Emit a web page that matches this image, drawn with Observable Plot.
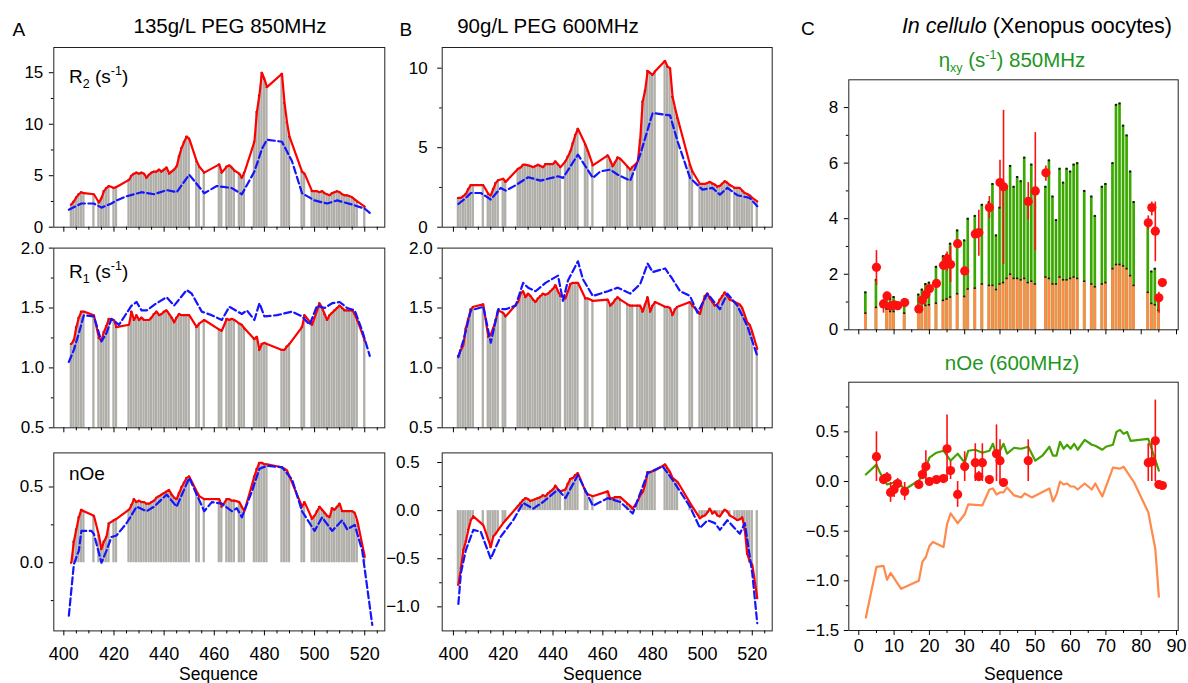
<!DOCTYPE html>
<html><head><meta charset="utf-8">
<script src="https://cdn.jsdelivr.net/npm/d3@7"></script>
<script src="https://cdn.jsdelivr.net/npm/@observablehq/plot@0.6"></script>
<style>
body{margin:0;background:#fff;}
#root{position:relative;width:1188px;height:683px;overflow:hidden;background:#fff;}
</style></head><body><div id="root"></div>
<script>
// ---------------- DATA ----------------
// Panel A (135 g/L PEG, 850 MHz): residues with measured bars
const resA = [403,404,405,406,407,408, 412, 414,415,416,417,418, 420,421,
  426,427,428,429,430,431,432,433,434,435,436,437,438,439,440,441,442,443,444,445,446,447,448,449,450,
  453,454, 456, 462,463, 465,466,467,468, 470,471,472, 476,477,478,479,480,481, 487,488,489,490, 495,496,
  499,500,501,502,503,504,505,506,507,508,509,510,511,512,513,514,515,516,517, 520];
const aR2 = [2.2,2.5,2.9,3.2,3.4,3.3, 3.2, 2.4,2.8,3.5,3.8,4.0, 3.8,3.9,
  4.6,5.0,5.2,5.3,5.2,5.3,5.2,4.8,5.1,5.3,5.4,5.4,5.6,5.4,5.6,5.8,5.2,5.4,5.6,5.9,6.9,7.7,8.3,8.8,8.6,
  6.4,5.9, 5.3, 6.1,5.3, 5.9,6.0,5.8,5.5, 5.2,4.8,5.3, 8.3,11.2,12.8,15.0,14.4,13.6, 14.9,12.1,10.2,8.8, 5.4,5.2,
  3.5,3.5,3.5,3.4,3.5,3.3,3.2,3.1,3.3,3.4,3.5,3.4,3.2,3.1,3.1,3.0,2.9,2.7,2.5, 2.0];
const aR1 = [1.20,1.23,1.34,1.42,1.47,1.47, 1.44, 1.25,1.23,1.30,1.35,1.41, 1.40,1.34,
  1.36,1.47,1.40,1.44,1.40,1.42,1.40,1.40,1.40,1.42,1.45,1.47,1.44,1.45,1.47,1.48,1.45,1.42,1.38,1.42,1.45,1.44,1.44,1.44,1.44,
  1.34,1.37, 1.40, 1.32,1.31, 1.41,1.40,1.41,1.40, 1.37,1.36,1.33, 1.24,1.26,1.15,1.20,1.21,1.20, 1.15,1.15,1.18,1.20, 1.34,1.44,
  1.36,1.42,1.48,1.54,1.50,1.45,1.40,1.44,1.46,1.48,1.50,1.52,1.50,1.48,1.48,1.48,1.48,1.45,1.40, 1.23];
const aNoe = [0.0,0.14,0.22,0.30,0.35,0.34, 0.31, 0.18,0.09,0.14,0.17,0.26, 0.28,0.29,
  0.35,0.38,0.42,0.40,0.41,0.40,0.40,0.39,0.39,0.40,0.41,0.43,0.44,0.45,0.46,0.47,0.48,0.45,0.43,0.42,0.46,0.50,0.53,0.56,0.57,
  0.47,0.44, 0.42, 0.42,0.37, 0.42,0.42,0.41,0.41, 0.40,0.37,0.34, 0.57,0.62,0.66,0.66,0.65,0.65, 0.63,0.62,0.61,0.57, 0.37,0.40,
  0.29,0.31,0.34,0.37,0.35,0.33,0.31,0.30,0.36,0.35,0.37,0.39,0.34,0.34,0.34,0.34,0.34,0.33,0.28, 0.04];
// Panel A predictions (blue dashed)
const pA_R2_res = [402,407,412,415,419,421,425,431,436,441,445,450,456,461,467,471,476,479,481,487,491,495,500,505,509,515,520,522];
const pA_R2     = [1.7,2.3,2.3,1.9,2.3,2.6,3.0,3.4,3.2,3.6,3.4,5.1,3.3,4.0,3.8,3.2,5.4,7.6,8.5,8.3,6.4,3.3,2.6,2.3,2.6,2.2,1.8,1.4];
const pA_R1_res = [402,404,406,408,412,415,417,419,422,427,429,431,433,437,441,444,449,451,455,459,463,466,471,473,476,478,480,485,491,495,498,501,504,507,510,513,516,519,522];
const pA_R1     = [1.05,1.15,1.29,1.44,1.43,1.22,1.29,1.41,1.36,1.52,1.55,1.48,1.48,1.54,1.59,1.52,1.65,1.62,1.47,1.44,1.40,1.51,1.45,1.48,1.40,1.54,1.43,1.44,1.47,1.43,1.36,1.52,1.50,1.54,1.55,1.50,1.48,1.31,1.10];
const pA_Noe_res = [402,404,406,407,411,412,415,417,419,421,425,429,433,436,441,445,450,456,459,463,467,469,471,475,478,481,487,491,495,500,503,507,511,513,516,519,523];
const pA_Noe     = [-0.35,-0.01,0.08,0.21,0.21,0.19,0.0,0.08,0.17,0.18,0.26,0.37,0.34,0.37,0.45,0.37,0.56,0.34,0.40,0.39,0.34,0.36,0.30,0.47,0.62,0.64,0.63,0.55,0.34,0.21,0.30,0.21,0.28,0.22,0.25,0.08,-0.41];

// Panel B (90 g/L PEG, 600 MHz)
const resB = [402,403,404,405,406,407,408, 412, 414,415,416,417,418, 420,421,
  426,427,428,429,430,431,432,433,434,435,436,437,438,439,440,441,442,443, 445,446,447,448,449,450,
  453,454, 456, 462,463, 464,465,466,467, 470,471,472, 474,475,476,477,478,479,480,481, 485,486,487,488,489,490, 495,496,
  499,500,501,502,503,504,505,506,507,508,509,510,511, 513,514,515,516,517,518,519,520, 522];
const bR2 = [1.84,1.84,1.95,2.09,2.4,2.64,2.64, 2.64, 2.1,2.0,2.4,2.78,2.95, 3.05,2.85,
  3.68,3.75,3.93,3.93,3.89,3.85,3.77,3.85,3.93,3.85,3.77,3.97,3.97,3.97,3.97,4.14,3.95,3.77, 4.14,4.45,4.77,5.3,5.8,6.19,
  5.2,4.8, 3.89, 4.52,4.2, 3.83,4.1,4.39,4.3, 3.8,3.62,3.8, 4.1,5.5,7.9,8.6,9.83,9.7,9.58,9.8, 10.46,10.1,10.0,8.2,7.5,6.86, 3.93,3.5,
  2.72,2.72,2.72,2.78,2.85,2.75,2.68,2.55,2.6,2.75,2.89,2.8,2.65, 2.47,2.47,2.47,2.3,2.15,2.09,2.0,1.85, 1.63];
const bR1 = [1.10,1.15,1.19,1.33,1.41,1.49,1.51, 1.53, 1.26,1.28,1.33,1.40,1.48, 1.46,1.43,
  1.55,1.62,1.64,1.59,1.62,1.60,1.57,1.55,1.58,1.60,1.62,1.61,1.62,1.64,1.66,1.69,1.64,1.60, 1.58,1.64,1.70,1.71,1.71,1.71,
  1.58,1.58, 1.56, 1.57,1.52, 1.54,1.57,1.59,1.57, 1.53,1.52,1.52, 1.52,1.52,1.47,1.53,1.59,1.47,1.52,1.55, 1.51,1.51,1.50,1.44,1.49,1.51, 1.55,1.52,
  1.45,1.53,1.60,1.62,1.58,1.55,1.52,1.53,1.57,1.60,1.63,1.60,1.57, 1.55,1.54,1.53,1.50,1.44,1.38,1.36,1.30, 1.16];
const bNoe = [-0.77,-0.6,-0.41,-0.32,-0.2,-0.1,-0.06, -0.15, -0.30,-0.38,-0.27,-0.24,-0.20, -0.13,-0.10,
  0.05,0.08,0.11,0.13,0.12,0.10,0.11,0.12,0.13,0.14,0.16,0.15,0.18,0.20,0.22,0.26,0.22,0.20, 0.22,0.28,0.33,0.34,0.37,0.39,
  0.20,0.17, 0.15, 0.20,0.12, 0.13,0.14,0.14,0.14, 0.07,0.05,0.02, 0.10,0.16,0.19,0.27,0.40,0.40,0.41,0.42, 0.48,0.44,0.40,0.34,0.32,0.30, 0.08,0.04,
  -0.08,-0.06,-0.05,-0.02,0.02,-0.03,-0.01,-0.05,-0.06,-0.02,0.01,-0.01,-0.05, -0.08,-0.10,-0.09,-0.07,-0.2,-0.45,-0.53,-0.56, -0.91];
const pB_R2_res = [402,405,407,411,415,419,421,425,430,435,442,444,450,456,459,463,466,471,475,480,487,490,495,500,504,507,510,514,519,522];
const pB_R2     = [1.46,1.84,2.15,2.15,1.74,2.47,2.3,2.64,3.14,2.93,3.2,3.1,4.56,3.1,3.51,3.62,3.3,2.93,4.56,7.18,7.03,5.4,3.1,2.36,2.47,2.05,2.47,2.01,1.84,1.32];
const pB_R1_res = [402,404,407,412,415,418,421,425,428,430,433,437,442,444,446,450,452,456,462,466,471,475,478,480,485,488,491,495,498,502,507,510,514,518,522];
const pB_R1     = [1.09,1.23,1.48,1.51,1.21,1.49,1.49,1.52,1.71,1.67,1.64,1.71,1.77,1.56,1.73,1.89,1.74,1.60,1.64,1.67,1.62,1.70,1.87,1.80,1.83,1.74,1.64,1.60,1.46,1.62,1.49,1.62,1.52,1.35,1.10];
const pB_Noe_res = [402,403,405,408,411,415,417,419,424,428,432,436,442,445,450,456,462,467,472,478,484,488,495,499,502,505,507,510,515,517,520,522];
const pB_Noe     = [-0.97,-0.65,-0.41,-0.20,-0.22,-0.50,-0.38,-0.27,-0.10,0.08,0.02,0.09,0.22,0.13,0.37,0.05,0.13,0.09,-0.03,0.39,0.46,0.32,0.04,-0.18,-0.10,-0.13,-0.20,-0.10,-0.24,-0.13,-0.65,-1.17];

// Panel C (in cellulo): eta_xy bars (green total, orange part)
const cRes    = [2,5,8,9,10,13,17,18,19,20,22,24,25,26,28,30,31,33,35,37,38,39,40,41,42,43,44,45,46,47,48,49,50,53,54,55,56,57,58,59,60,61,62,64,66,67,69,70,72,73,74,75,76,77,78,82,83,84,85];
const cGreen  = [1.35,1.8,1.25,1.12,1.18,1.11,1.27,1.45,1.65,1.7,2.27,2.65,2.71,3.1,3.58,3.22,4.0,4.1,4.5,4.6,5.25,3.4,4.4,5.25,5.1,5.9,5.15,5.5,5.35,6.2,4.7,5.95,5.0,5.15,6.1,4.8,3.95,5.8,5.3,5.8,5.7,5.95,6.0,5.0,4.8,4.1,5.15,5.25,6.0,8.1,8.15,7.35,7.0,5.7,4.6,3.8,2.1,2.2,1.2];
const cOrange = [0.6,0.81,0.75,0.66,0.66,0.6,0.72,0.8,0.88,0.9,0.96,1.06,1.11,1.18,1.3,1.2,1.47,1.5,1.65,1.6,1.6,1.45,1.65,1.7,1.85,2.0,1.85,1.85,1.8,1.85,1.7,1.75,1.65,1.9,1.85,1.65,1.65,1.9,1.8,1.8,1.85,1.9,1.85,1.75,1.65,1.55,1.65,1.7,2.2,2.35,2.35,2.3,2.2,1.95,1.6,1.35,0.95,0.9,0.7];
// in-cell measured eta_xy (red points)
const cEtaRes = [5,7,8,9,10,11,13,17,18,19,20,22,24,25,26,28,30,33,34,37,40,41,48,50,53,82,83,84,85,86];
const cEta    = [2.25,0.93,1.22,0.85,0.9,0.87,0.98,0.75,1.07,1.27,1.48,1.67,2.32,2.55,2.35,3.1,2.12,3.45,3.5,4.4,5.3,5.15,4.62,5.0,5.65,3.85,4.4,3.55,1.15,1.7];
const cEtaLo  = [1.6,0.6,1.1,0.7,0.8,0.8,0.9,0.7,0.95,1.15,1.35,1.55,2.15,2.1,1.7,2.95,2.0,3.3,2.65,4.0,4.4,2.35,3.95,2.85,5.35,3.6,4.1,2.45,0.6,1.6];
const cEtaHi  = [2.85,1.1,1.35,1.0,1.0,0.95,1.05,0.8,1.2,1.4,1.6,1.8,2.5,2.8,3.0,3.25,2.25,3.6,4.3,4.8,6.1,7.9,5.3,7.1,5.9,4.1,4.6,4.6,1.35,1.8];
// nOe (600 MHz): green and orange lines, red in-cell points
const cNoeGreenRes = [2,5,6,8,10,11,13,17,18,19,20,22,24,25,26,28,30,31,33,35,37,38,39,40,41,42,44,46,48,50,52,54,55,56,57,58,59,60,61,62,64,66,67,69,70,72,73,74,75,76,77,82,85];
const cNoeGreen    = [0.07,0.17,0.09,-0.03,-0.01,0.0,-0.08,0.01,0.06,0.14,0.24,0.29,0.31,0.26,0.21,0.28,0.19,0.31,0.32,0.29,0.31,0.38,0.26,0.31,0.38,0.28,0.34,0.33,0.35,0.21,0.26,0.35,0.26,0.26,0.40,0.33,0.37,0.33,0.38,0.32,0.42,0.37,0.36,0.32,0.35,0.37,0.50,0.52,0.48,0.50,0.41,0.43,0.11];
const cNoeOrangeRes = [2,5,7,8,9,12,17,18,19,20,21,24,25,26,28,30,31,35,37,38,39,40,41,42,44,46,47,49,54,55,56,57,58,59,60,61,62,64,66,67,69,72,74,75,78,82,84,85];
const cNoeOrange    = [-1.37,-0.86,-0.85,-0.99,-0.92,-1.08,-1.0,-0.81,-0.76,-0.65,-0.61,-0.66,-0.43,-0.32,-0.42,-0.33,-0.23,-0.24,-0.08,-0.07,-0.13,-0.11,-0.11,-0.06,-0.14,-0.16,-0.12,-0.16,-0.07,-0.20,-0.13,0.0,-0.03,-0.02,-0.05,-0.05,-0.08,-0.02,-0.08,-0.02,-0.15,0.14,0.13,0.15,-0.01,-0.31,-0.68,-1.16];
const cNoeRes = [5,7,8,9,10,11,13,17,18,19,20,22,24,25,26,28,30,33,34,35,37,39,40,41,48,82,83,84,85,86];
const cNoe    = [0.25,0.02,0.04,-0.11,-0.08,-0.02,-0.10,-0.03,0.07,0.15,0.0,0.02,0.03,0.33,0.11,-0.13,0.15,0.19,0.05,0.19,0.02,0.28,0.21,-0.01,0.21,0.19,0.20,0.41,-0.03,-0.04];
const cNoeLo  = [0.0,-0.03,-0.01,-0.21,-0.16,-0.07,-0.19,-0.07,0.02,0.0,-0.04,-0.01,0.0,0.0,0.02,-0.26,0.0,0.0,0.0,0.0,-0.01,0.0,0.0,-0.05,0.0,0.0,0.0,0.0,-0.06,-0.07];
const cNoeHi  = [0.5,0.07,0.09,-0.01,0.0,0.03,-0.01,0.01,0.12,0.31,0.04,0.05,0.06,0.67,0.2,0.0,0.3,0.38,0.1,0.38,0.05,0.57,0.42,0.03,0.42,0.38,0.4,0.82,0.0,-0.01];

// axis ticks
const seqMajor = [400,420,440,460,480,500,520];
const seqMinor = [405,410,415,425,430,435,445,450,455,465,470,475,485,490,495,505,510,515,525];
const cMajor = [0,10,20,30,40,50,60,70,80,90];
const cMinor = [5,15,25,35,45,55,65,75,85];

// ---------------- DRAWING ----------------
const root = document.getElementById("root");
const FONT = '"Liberation Sans", Arial, Helvetica, sans-serif';
const GRAY = "#b0aea8", RED = "#ff0000", BLUE = "#1414ff";
const GREEN = "#3aa800", ORANGE = "#ff8a4c", DOTRED = "#ff1010";
const f1 = d3.format(".1f");

function panel(o) {
  const [L, T, W, H] = o.box;
  const [fx0, fy0, fx1, fy1] = o.frame;
  const svg = Plot.plot({
    width: W, height: H,
    marginLeft: fx0 - L, marginRight: L + W - fx1, marginTop: fy0 - T, marginBottom: T + H - fy1,
    x: {domain: o.xDomain},
    y: {domain: o.yDomain},
    style: {fontFamily: FONT, fontSize: "17px", color: "#000", background: "transparent", overflow: "visible"},
    marks: [
      ...o.marks,
      Plot.frame({stroke: "#222", strokeWidth: 1}),
      Plot.axisY(o.yMinor, {tickSize: 2.5, tickFormat: () => "", label: null}),
      Plot.axisY(o.yTicks, {tickSize: 4.5, tickPadding: o.yPad, tickFormat: o.yFmt, label: null, fontSize: 17}),
      Plot.axisX(o.xMinor, {tickSize: 3, tickFormat: () => "", label: null}),
      Plot.axisX(o.xTicks, {tickSize: 5, tickPadding: o.xPad ?? 3, tickFormat: o.xLabels ? (d => String(d)) : (() => ""), label: null, fontSize: 18})
    ]
  });
  svg.style.position = "absolute";
  svg.style.left = L + "px";
  svg.style.top = T + "px";
  root.appendChild(svg);
}

function rows(res, vals) { return res.map((r, i) => ({r, v: vals[i]})); }

function seqMarks(res, vals, pres, pvals, base) {
  const d = rows(res, vals);
  const p = rows(pres, pvals);
  return [
    Plot.rect(d, {x1: e => e.r - 0.46, x2: e => e.r + 0.46, y1: base, y2: "v", fill: GRAY}),
    Plot.ruleY(d, {y: "v", x1: e => e.r - 0.3, x2: e => e.r + 0.3, stroke: "#111", strokeWidth: 1.6}),
    Plot.line(d, {x: "r", y: "v", stroke: RED, strokeWidth: 2.2}),
    Plot.line(p, {x: "r", y: "v", stroke: BLUE, strokeWidth: 2.2, strokeDasharray: "7,3.5"})
  ];
}

const colA = {L: 0, W: 400, fx0: 53.3, fx1: 384.3, dom: [396, 528]};
const colB = {L: 400, W: 385, fx0: 441.7, fx1: 771.7, dom: [395.5, 528]};
const rowR2 = {T: 40, H: 200, fy0: 47, fy1: 226.7};
const rowR1 = {T: 240, H: 200, fy0: 247.6, fy1: 427.3};
const rowN  = {T: 445, H: 238, fy0: 452.4, fy1: 630.4};

function seqPanel(col, row, o) {
  panel({
    box: [col.L, row.T, col.W, row.H],
    frame: [col.fx0, row.fy0, col.fx1, row.fy1],
    xDomain: col.dom, yDomain: o.yDomain,
    yTicks: o.yTicks, yMinor: o.yMinor, yFmt: o.yFmt, yPad: o.yPad,
    xTicks: seqMajor, xMinor: seqMinor, xLabels: o.xLabels, xPad: 11,
    marks: o.marks
  });
}

// Panel A
seqPanel(colA, rowR2, {yDomain: [0, 17.45], yTicks: [0,5,10,15], yMinor: [2.5,7.5,12.5], yFmt: d => String(d), yPad: 6,
  marks: seqMarks(resA, aR2, pA_R2_res, pA_R2, 0)});
seqPanel(colA, rowR1, {yDomain: [0.5, 2.0], yTicks: [0.5,1.0,1.5,2.0], yMinor: [0.75,1.25,1.75], yFmt: f1, yPad: 5,
  marks: seqMarks(resA, aR1, pA_R1_res, pA_R1, 0.5)});
seqPanel(colA, rowN, {yDomain: [-0.45, 0.725], yTicks: [0.0,0.5], yMinor: [-0.25,0.25], yFmt: f1, yPad: 6, xLabels: true,
  marks: seqMarks(resA, aNoe, pA_Noe_res, pA_Noe, 0)});
// Panel B
seqPanel(colB, rowR2, {yDomain: [0, 11.3], yTicks: [0,5,10], yMinor: [2.5,7.5], yFmt: d => String(d), yPad: 10,
  marks: seqMarks(resB, bR2, pB_R2_res, pB_R2, 0)});
seqPanel(colB, rowR1, {yDomain: [0.5, 2.0], yTicks: [0.5,1.0,1.5,2.0], yMinor: [0.75,1.25,1.75], yFmt: f1, yPad: 5,
  marks: seqMarks(resB, bR1, pB_R1_res, pB_R1, 0.5)});
seqPanel(colB, rowN, {yDomain: [-1.25, 0.6], yTicks: [-1.0,-0.5,0.0,0.5], yMinor: [-0.75,-0.25,0.25], yFmt: f1, yPad: 18, xLabels: true,
  marks: seqMarks(resB, bNoe, pB_Noe_res, pB_Noe, 0)});

// Panel C top: eta_xy
const cBars = cRes.map((r, i) => ({r, g: cGreen[i], o: cOrange[i]}));
const cEtaPts = cEtaRes.map((r, i) => ({r, v: cEta[i], lo: cEtaLo[i], hi: cEtaHi[i]}));
panel({
  box: [795, 70, 393, 270], frame: [848.3, 79.3, 1177.7, 329.3],
  xDomain: [-2.83, 90.48], yDomain: [0, 9],
  yTicks: [0,2,4,6,8], yMinor: [1,3,5,7], yFmt: d => String(d), yPad: 6,
  xTicks: cMajor, xMinor: cMinor, xLabels: false,
  marks: [
    Plot.rect(cBars, {x1: e => e.r - 0.38, x2: e => e.r + 0.38, y1: 0, y2: "g", fill: GREEN}),
    Plot.rect(cBars, {x1: e => e.r - 0.38, x2: e => e.r + 0.38, y1: 0, y2: "o", fill: ORANGE}),
    Plot.ruleY(cBars, {y: "g", x1: e => e.r - 0.3, x2: e => e.r + 0.3, stroke: "#111", strokeWidth: 2}),
    Plot.ruleY(cBars, {y: "o", x1: e => e.r - 0.3, x2: e => e.r + 0.3, stroke: "#111", strokeWidth: 1.6}),
    Plot.ruleX(cEtaPts, {x: "r", y1: "lo", y2: "hi", stroke: DOTRED, strokeWidth: 1.6}),
    Plot.dot(cEtaPts, {x: "r", y: "v", r: 4.6, fill: DOTRED, stroke: "none"})
  ]
});

// Panel C bottom: nOe
const cG = rows(cNoeGreenRes, cNoeGreen);
const cO = rows(cNoeOrangeRes, cNoeOrange);
const cNoePts = cNoeRes.map((r, i) => ({r, v: cNoe[i], lo: cNoeLo[i], hi: cNoeHi[i]}));
panel({
  box: [795, 370, 393, 313], frame: [848.3, 381.7, 1177.7, 630],
  xDomain: [-2.83, 90.48], yDomain: [-1.5, 1.0],
  yTicks: [-1.5,-1.0,-0.5,0.0,0.5], yMinor: [-1.25,-0.75,-0.25,0.25,0.75], yFmt: f1, yPad: 5,
  xTicks: cMajor, xMinor: cMinor, xLabels: true, xPad: 4,
  marks: [
    Plot.line(cO, {x: "r", y: "v", stroke: ORANGE, strokeWidth: 2.2}),
    Plot.line(cG, {x: "r", y: "v", stroke: "#44a300", strokeWidth: 2.2}),
    Plot.ruleX(cNoePts, {x: "r", y1: "lo", y2: "hi", stroke: DOTRED, strokeWidth: 1.6}),
    Plot.dot(cNoePts, {x: "r", y: "v", r: 4.6, fill: DOTRED, stroke: "none"})
  ]
});

// ---------------- TEXT OVERLAY ----------------
const ov = d3.create("svg").attr("width", 1188).attr("height", 683)
  .style("position", "absolute").style("left", "0px").style("top", "0px")
  .style("pointer-events", "none").style("font-family", FONT);
function label(x, y, parts, opt = {}) {
  const t = ov.append("text").attr("x", x).attr("y", y)
    .attr("text-anchor", opt.anchor || "start")
    .attr("font-size", opt.size || 20)
    .attr("fill", opt.fill || "#000");
  for (const p of parts) {
    const s = t.append("tspan").text(p.t);
    if (p.dy) s.attr("dy", p.dy);
    if (p.size) s.attr("font-size", p.size);
    if (p.italic) s.attr("font-style", "italic");
  }
  return t;
}
label(12.5, 36, [{t: "A"}], {size: 19});
label(230, 33, [{t: "135g/L PEG 850MHz"}], {anchor: "middle", size: 20.5});
label(399.5, 36, [{t: "B"}], {size: 19});
label(548, 33, [{t: "90g/L PEG 600MHz"}], {anchor: "middle", size: 20.5});
label(801, 35, [{t: "C"}], {size: 19});
label(1172, 33, [{t: "In cellulo", italic: true}, {t: " (Xenopus oocytes)"}], {anchor: "end", size: 21.5});
label(1012, 67, [{t: "η"}, {t: "xy", size: 12.5, dy: 5}, {t: " (s", dy: -5}, {t: "-1", size: 12.5, dy: -8}, {t: ") 850MHz", dy: 8}], {anchor: "middle", fill: "#1e961e", size: 20.5});
label(1012, 370, [{t: "nOe (600MHz)"}], {anchor: "middle", fill: "#1e961e", size: 20.5});
label(69, 83, [{t: "R"}, {t: "2", size: 12.5, dy: 5}, {t: " (s", dy: -5}, {t: "-1", size: 12.5, dy: -8}, {t: ")", dy: 8}], {size: 19});
label(69, 278, [{t: "R"}, {t: "1", size: 12.5, dy: 5}, {t: " (s", dy: -5}, {t: "-1", size: 12.5, dy: -8}, {t: ")", dy: 8}], {size: 19});
label(69, 480, [{t: "nOe"}], {size: 19});
label(218.5, 679.5, [{t: "Sequence"}], {anchor: "middle", size: 17.5});
label(602.5, 680, [{t: "Sequence"}], {anchor: "middle", size: 17.5});
label(1023.5, 680, [{t: "Sequence"}], {anchor: "middle", size: 17.5});
root.appendChild(ov.node());
</script></body></html>
